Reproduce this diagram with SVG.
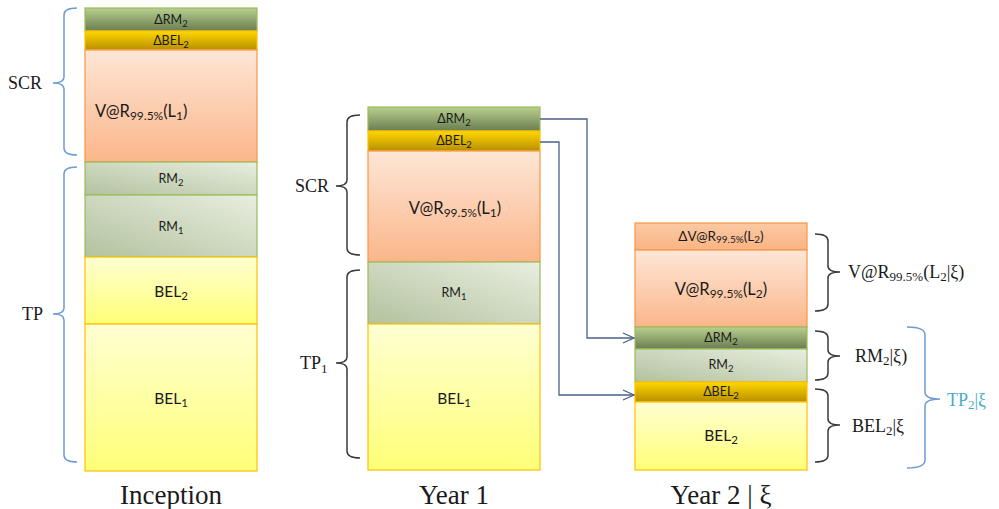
<svg xmlns="http://www.w3.org/2000/svg" width="999" height="509" viewBox="0 0 999 509">
<defs>
<linearGradient id="gDRM" x1="0" y1="0" x2="0" y2="1"><stop offset="0" stop-color="#b9d08f"/><stop offset="1" stop-color="#6a7d50"/></linearGradient>
<linearGradient id="gDBEL" x1="0" y1="0" x2="0" y2="1"><stop offset="0" stop-color="#ffd700"/><stop offset="1" stop-color="#b88f00"/></linearGradient>
<linearGradient id="gVAR" x1="0" y1="0" x2="0" y2="1"><stop offset="0" stop-color="#fde6d6"/><stop offset="1" stop-color="#fbb68a"/></linearGradient>
<linearGradient id="gRM" x1="0" y1="1" x2="1" y2="0"><stop offset="0" stop-color="#b3c29e"/><stop offset="1" stop-color="#e8eee0"/></linearGradient>
<linearGradient id="gBEL" x1="0" y1="0" x2="0" y2="1"><stop offset="0" stop-color="#ffffd2"/><stop offset="1" stop-color="#ffff78"/></linearGradient>
<linearGradient id="gDVAR" x1="0" y1="0" x2="0" y2="1"><stop offset="0" stop-color="#fbc9a2"/><stop offset="1" stop-color="#f9b484"/></linearGradient>
<marker id="arr" markerWidth="14" markerHeight="12" refX="12" refY="6" orient="auto" markerUnits="userSpaceOnUse"><path d="M1,1 L12,6 L1,11" fill="none" stroke="#4a6189" stroke-width="1.3"/></marker>
</defs>
<style>
.drm{fill:url(#gDRM);stroke:#9bbb59;stroke-width:1.2}
.dbel{fill:url(#gDBEL);stroke:#ffc000;stroke-width:1.2}
.var{fill:url(#gVAR);stroke:#f79646;stroke-width:1.2}
.dvar{fill:url(#gDVAR);stroke:#f79646;stroke-width:1.2}
.rm{fill:url(#gRM);stroke:#9bbb59;stroke-width:1.2}
.bel{fill:url(#gBEL);stroke:#ffc000;stroke-width:1.2}
.t{font-family:Lato,"Liberation Sans",sans-serif;fill:#1a1a1a;text-anchor:middle}
.s{font-size:12.5px}
.m{font-size:15.5px}
.v{font-size:16.5px}
.lab{font-family:"Liberation Serif",serif;font-size:18px;fill:#1a1a1a}
.title{font-family:"Liberation Serif",serif;font-size:27px;fill:#1a1a1a;text-anchor:middle}
.bb{fill:none;stroke:#6f9bd3;stroke-width:1.5}
.bk{fill:none;stroke:#3a3a3a;stroke-width:1.5}
.con{fill:none;stroke:#4a6189;stroke-width:1.3}
</style>

<g id="inception">
<rect class="drm" x="85" y="8" width="172" height="23"/>
<text class="t s" x="171" y="24">ΔRM<tspan font-size="9.5" dy="3">2</tspan></text>
<rect class="dbel" x="85" y="31" width="172" height="19"/>
<text class="t s" x="171" y="45">ΔBEL<tspan font-size="9.5" dy="3">2</tspan></text>
<rect class="var" x="85" y="50" width="172" height="112"/>
<text class="t v" x="95" y="117" style="text-anchor:start">V@R<tspan font-size="12" dy="3">99.5%</tspan><tspan dy="-3">(L</tspan><tspan font-size="12" dy="3">1</tspan><tspan dy="-3">)</tspan></text>
<rect class="rm" x="85" y="162" width="172" height="33"/>
<text class="t s" x="171" y="183">RM<tspan font-size="9.5" dy="3">2</tspan></text>
<rect class="rm" x="85" y="195" width="172" height="62"/>
<text class="t s" x="171" y="231">RM<tspan font-size="9.5" dy="3">1</tspan></text>
<rect class="bel" x="85" y="257" width="172" height="67"/>
<text class="t m" x="171" y="297">BEL<tspan font-size="11.5" dy="3">2</tspan></text>
<rect class="bel" x="85" y="324" width="172" height="147"/>
<text class="t m" x="171" y="404">BEL<tspan font-size="11.5" dy="3">1</tspan></text>
<text class="title" x="171" y="504">Inception</text>
</g>

<g id="inception-braces">
<path class="bb" d="M77,8 Q64,8 64,15 L64,77 Q64,83 53,83 Q64,83 64,89 L64,148 Q64,155 77,155"/>
<text class="lab" x="8" y="89">SCR</text>
<path class="bb" d="M77,167 Q64,167 64,174 L64,308 Q64,314 53,314 Q64,314 64,320 L64,455 Q64,462 77,462"/>
<text class="lab" x="22" y="320">TP</text>
</g>

<g id="year1">
<rect class="drm" x="368" y="107" width="172" height="24"/>
<text class="t s" x="454" y="123">ΔRM<tspan font-size="9.5" dy="3">2</tspan></text>
<rect class="dbel" x="368" y="131" width="172" height="20"/>
<text class="t s" x="454" y="145">ΔBEL<tspan font-size="9.5" dy="3">2</tspan></text>
<rect class="var" x="368" y="151" width="172" height="111"/>
<text class="t v" x="455" y="214">V@R<tspan font-size="12" dy="3">99.5%</tspan><tspan dy="-3">(L</tspan><tspan font-size="12" dy="3">1</tspan><tspan dy="-3">)</tspan></text>
<rect class="rm" x="368" y="262" width="172" height="62"/>
<text class="t s" x="454" y="297">RM<tspan font-size="9.5" dy="3">1</tspan></text>
<rect class="bel" x="368" y="324" width="172" height="146"/>
<text class="t m" x="454" y="404">BEL<tspan font-size="11.5" dy="3">1</tspan></text>
<text class="title" x="454" y="504">Year 1</text>
</g>

<g id="year1-braces">
<path class="bk" d="M360,115 Q347,115 347,122 L347,180 Q347,186 336,186 Q347,186 347,192 L347,248 Q347,255 360,255"/>
<text class="lab" x="295" y="192">SCR</text>
<path class="bk" d="M360,270 Q347,270 347,277 L347,357 Q347,363 336,363 Q347,363 347,369 L347,451 Q347,458 360,458"/>
<text class="lab" x="300" y="369">TP<tspan font-size="13" dy="4">1</tspan></text>
</g>

<g id="year2">
<rect class="dvar" x="635" y="223" width="172" height="27"/>
<text class="t" x="721" y="241" font-size="13.5">ΔV@R<tspan font-size="10" dy="2">99.5%</tspan><tspan dy="-2">(L</tspan><tspan font-size="10" dy="2">2</tspan><tspan dy="-2">)</tspan></text>
<rect class="var" x="635" y="250" width="172" height="77"/>
<text class="t v" x="721" y="295">V@R<tspan font-size="12" dy="3">99.5%</tspan><tspan dy="-3">(L</tspan><tspan font-size="12" dy="3">2</tspan><tspan dy="-3">)</tspan></text>
<rect class="drm" x="635" y="327" width="172" height="22"/>
<text class="t s" x="721" y="342">ΔRM<tspan font-size="9.5" dy="3">2</tspan></text>
<rect class="rm" x="635" y="349" width="172" height="33"/>
<text class="t s" x="721" y="369">RM<tspan font-size="9.5" dy="3">2</tspan></text>
<rect class="dbel" x="635" y="382" width="172" height="20"/>
<text class="t s" x="721" y="396">ΔBEL<tspan font-size="9.5" dy="3">2</tspan></text>
<rect class="bel" x="635" y="402" width="172" height="68"/>
<text class="t m" x="721" y="441">BEL<tspan font-size="11.5" dy="3">2</tspan></text>
<text class="title" x="721" y="504">Year 2 | ξ</text>
</g>

<g id="year2-braces">
<path class="bk" d="M815,234 Q828,234 828,241 L828,266 Q828,272 840,272 Q828,272 828,278 L828,304 Q828,311 815,311"/>
<text class="lab" x="848" y="278">V@R<tspan font-size="13" dy="3">99.5%</tspan><tspan dy="-3">(L</tspan><tspan font-size="13" dy="3">2</tspan><tspan dy="-3">|ξ)</tspan></text>
<path class="bk" d="M815,331 Q828,331 828,338 L828,350 Q828,356 840,356 Q828,356 828,362 L828,373 Q828,380 815,380"/>
<text class="lab" x="855" y="362">RM<tspan font-size="13" dy="3">2</tspan><tspan dy="-3">|ξ)</tspan></text>
<path class="bk" d="M815,389 Q828,389 828,396 L828,419 Q828,425 840,425 Q828,425 828,431 L828,455 Q828,462 815,462"/>
<text class="lab" x="852" y="432">BEL<tspan font-size="13" dy="3">2</tspan><tspan dy="-3">|ξ</tspan></text>
<path class="bb" d="M907,327 Q925,327 925,335 L925,392 Q925,399 940,399 Q925,399 925,406 L925,460 Q925,468 907,468"/>
<text class="lab" x="947" y="406" style="fill:#4bacc6">TP<tspan font-size="13" dy="3">2</tspan><tspan dy="-3">|ξ</tspan></text>
</g>

<g id="connectors">
<path class="con" d="M540,119 L587,119 L587,338 L634,338" marker-end="url(#arr)"/>
<path class="con" d="M540,142 L559,142 L559,395 L634,395" marker-end="url(#arr)"/>
</g>
</svg>
